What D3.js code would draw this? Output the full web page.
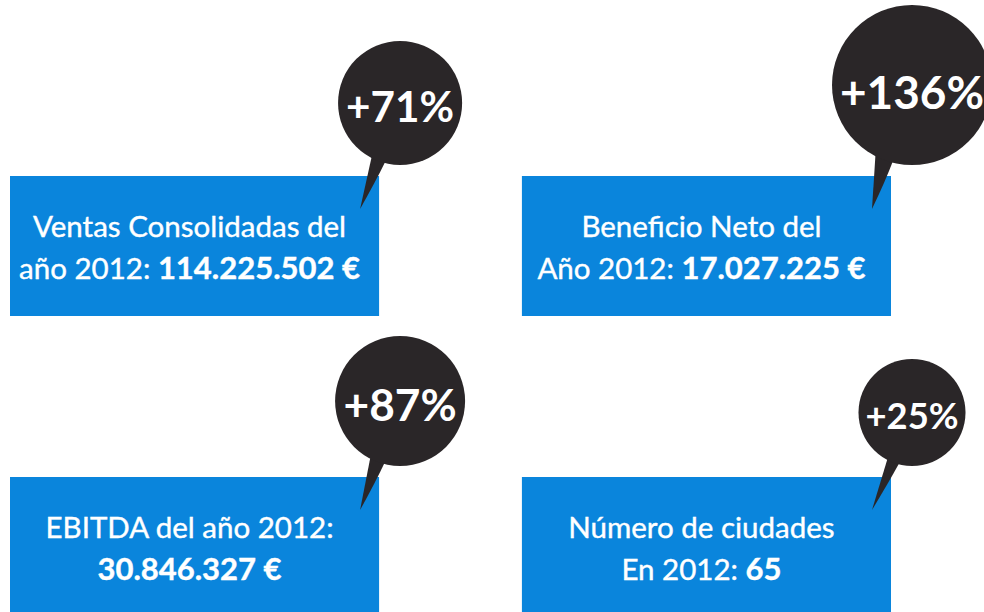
<!DOCTYPE html>
<html>
<head>
<meta charset="utf-8">
<script src="https://cdn.jsdelivr.net/npm/d3@7"></script>
<style>
  html, body { margin: 0; padding: 0; background: #ffffff; }
  svg { display: block; }
</style>
</head>
<body>
<div id="chart"></div>
<script>
// ---- data ----
const titles   = ["Ventas Consolidadas del", "Beneficio Neto del", "EBITDA del año 2012:", "Número de ciudades"];
const prefixes = ["año 2012: ", "Año 2012: ", "", "En 2012: "];
const values   = ["114.225.502 €", "17.027.225 €", "30.846.327 €", "65"];
const growth   = [71, 136, 87, 25];
const cols     = [0, 1, 0, 1];
const rows     = [0, 0, 1, 1];

// ---- layout ----
const W = 984, H = 612;
const svg = d3.select("#chart").append("svg").attr("width", W).attr("height", H);

const x = d3.scaleBand().domain([0, 1]).range([10, 891]).paddingInner(0.279);
const y = d3.scalePoint().domain([0, 1]).range([176, 477]);
const boxH = 140;
const rScale = d3.scaleLinear().domain([25, 87, 136]).range([53.5, 65, 80]);

const blue = "#0a85dc", dark = "#2a2628";
const font = "Lato, 'Open Sans', sans-serif";

const data = titles.map((t, i) => ({
  title: t, prefix: prefixes[i], value: values[i], growth: growth[i],
  col: cols[i], row: rows[i]
}));

const g = svg.selectAll("g.card").data(data).join("g").attr("class", "card");

// boxes
g.append("rect")
  .attr("x", d => x(d.col))
  .attr("y", d => y(d.row))
  .attr("width", x.bandwidth())
  .attr("height", boxH)
  .attr("fill", blue);

// geometry helper for bubbles
function bubble(d) {
  const r = rScale(d.growth);
  const bx = x(d.col) + x.bandwidth();
  const by = y(d.row);
  const cx = bx + 21;
  const cy = by - 11 - r;
  const tip = [bx - 19, by + 33];
  return { r, cx, cy, tip };
}

// tails
g.append("path")
  .attr("fill", dark)
  .attr("d", d => {
    const b = bubble(d);
    const a1 = 104 * Math.PI / 180, a2 = 118 * Math.PI / 180;
    const p1 = [b.cx + b.r * Math.cos(a1) * 0.97, b.cy + b.r * Math.sin(a1) * 0.97];
    const p2 = [b.cx + b.r * Math.cos(a2) * 0.97, b.cy + b.r * Math.sin(a2) * 0.97];
    const ctrl = [(p1[0] + b.tip[0]) / 2 + 3, (p1[1] + b.tip[1]) / 2 - 4];
    const path = d3.path();
    path.moveTo(p1[0], p1[1]);
    path.quadraticCurveTo(ctrl[0], ctrl[1], b.tip[0], b.tip[1]);
    path.lineTo(p2[0], p2[1]);
    path.closePath();
    return path.toString();
  });

// circles
g.append("circle")
  .attr("cx", d => bubble(d).cx)
  .attr("cy", d => bubble(d).cy)
  .attr("r", d => bubble(d).r)
  .attr("fill", dark);

// circle labels
g.append("text")
  .attr("x", d => bubble(d).cx)
  .attr("y", d => bubble(d).cy + 0.3 * bubble(d).r)
  .attr("text-anchor", "middle")
  .attr("fill", "#ffffff")
  .attr("font-family", font)
  .attr("font-weight", 700)
  .attr("font-size", d => bubble(d).r * 0.68)
  .text(d => "+" + d.growth + "%")
  .each(function(d) {
    const r = bubble(d).r;
    const maxW = 1.8 * r;
    const w = this.getComputedTextLength();
    if (w > maxW) d3.select(this).attr("font-size", r * 0.68 * maxW / w);
  });

// box text line 1
g.append("text")
  .attr("x", d => x(d.col) + x.bandwidth() / 2 - 5)
  .attr("y", d => y(d.row) + 61)
  .attr("text-anchor", "middle")
  .attr("fill", "#ffffff")
  .attr("stroke", "#ffffff")
  .attr("stroke-width", 0.4)
  .attr("font-family", font)
  .attr("font-size", 29.5)
  .text(d => d.title);

// box text line 2
const l2 = g.append("text")
  .attr("x", d => x(d.col) + x.bandwidth() / 2 - 5)
  .attr("y", d => y(d.row) + 103)
  .attr("text-anchor", "middle")
  .attr("fill", "#ffffff")
  .attr("stroke", "#ffffff")
  .attr("stroke-width", 0.4)
  .attr("font-family", font)
  .attr("font-size", 29.5);
l2.append("tspan").text(d => d.prefix);
l2.append("tspan").attr("font-weight", 700).attr("font-size", 31).text(d => d.value);
</script>
</body>
</html>
